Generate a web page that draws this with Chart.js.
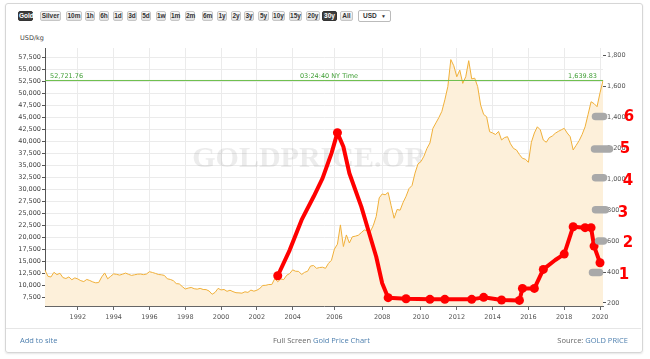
<!DOCTYPE html>
<html>
<head>
<meta charset="utf-8">
<script src="https://cdn.jsdelivr.net/npm/chart.js@4"></script>
<style>
  body { margin: 0; width: 650px; height: 359px; background: #fff; position: relative; overflow: hidden; font-family: 'Open Sans', sans-serif; }
  .panel { position: absolute; left: 5px; top: 3px; width: 636px; height: 348px; border: 1px solid #d6d6d6; border-radius: 3px; box-shadow: 0 1px 2px rgba(0,0,0,0.10); }
  .btn { position: absolute; top: 11px; height: 10px; line-height: 8px; box-sizing: border-box; font: bold 6.5px 'Liberation Sans', Arial, sans-serif; color: #333; background: linear-gradient(#fafafa, #e2e2e2); border: 1px solid #c6c6c6; border-radius: 2px; text-align: center; }
  .btn.on { background: #3d3d3d; color: #fff; border-color: #333; }
  .sel { position: absolute; top: 10px; left: 358px; width: 33px; height: 12px; box-sizing: border-box; border: 1px solid #bbb; border-radius: 2px; background: #fff; font: bold 6.5px 'Liberation Sans', Arial, sans-serif; color: #333; line-height: 10px; padding-left: 4px; }
  .sel span { position: absolute; right: 4px; font-size: 5px; }
  .unit { position: absolute; left: 20px; top: 34px; font: 6.5px 'DejaVu Sans', sans-serif; color: #444; }
  #wrap { position: absolute; left: 0; top: 30px; width: 650px; height: 300px; }
  .fline { position: absolute; left: 6px; width: 635px; top: 328px; border-top: 1px solid #e6e6e6; }
  .foot { position: absolute; top: 335px; font: 7.5px 'Open Sans', sans-serif; color: #666; white-space: nowrap; }
  .lnk { color: #4d7fae; }
</style>
</head>
<body>
<div class="panel"></div>
<div class="btn on" style="left:18px;width:15px">Gold</div>
<div class="btn" style="left:40px;width:21px">Silver</div>
<div class="btn" style="left:66px;width:16px">10m</div>
<div class="btn" style="left:85px;width:10px">1h</div>
<div class="btn" style="left:99px;width:10px">6h</div>
<div class="btn" style="left:113px;width:10px">1d</div>
<div class="btn" style="left:127px;width:10px">3d</div>
<div class="btn" style="left:141px;width:10px">5d</div>
<div class="btn" style="left:156px;width:10px">1w</div>
<div class="btn" style="left:170px;width:10px">1m</div>
<div class="btn" style="left:185px;width:10px">2m</div>
<div class="btn" style="left:202px;width:11px">6m</div>
<div class="btn" style="left:217px;width:10px">1y</div>
<div class="btn" style="left:231px;width:10px">2y</div>
<div class="btn" style="left:244px;width:10px">3y</div>
<div class="btn" style="left:258px;width:11px">5y</div>
<div class="btn" style="left:272px;width:13px">10y</div>
<div class="btn" style="left:289px;width:13px">15y</div>
<div class="btn" style="left:306px;width:14px">20y</div>
<div class="btn on" style="left:322px;width:15px">30y</div>
<div class="btn" style="left:340px;width:13px">All</div>
<div class="sel">USD<span>&#9660;</span></div>
<div class="unit">USD/kg</div>
<div id="wrap"><canvas id="chart"></canvas></div>
<div class="fline"></div>
<div class="foot lnk" style="left:20px">Add to site</div>
<div class="foot" style="left:273px">Full Screen <span class="lnk">Gold Price Chart</span></div>
<div class="foot" style="right:22px">Source: <span class="lnk">GOLD PRICE</span></div>
<script>
const OZ_PER_KG = 32.1507;

// sample dates (the site spaces its points evenly, so the axis is by index)
const dates = [
  '1990-03','1990-05','1990-07','1990-09','1990-11',
  '1991-01','1991-03','1991-05','1991-07','1991-09','1991-11',
  '1992-01','1992-03','1992-05','1992-07','1992-09','1992-11',
  '1993-01','1993-03','1993-05','1993-07','1993-09','1993-11',
  '1994-01','1994-03','1994-05','1994-07','1994-09','1994-11',
  '1995-01','1995-03','1995-05','1995-07','1995-09','1995-11',
  '1996-01','1996-03','1996-05','1996-07','1996-09','1996-11',
  '1997-01','1997-03','1997-05','1997-07','1997-09','1997-11',
  '1998-01','1998-03','1998-05','1998-07','1998-09','1998-11',
  '1999-01','1999-03','1999-05','1999-07','1999-09','1999-11',
  '2000-01','2000-03','2000-05','2000-07','2000-09','2000-11',
  '2001-01','2001-03','2001-05','2001-07','2001-09','2001-11',
  '2002-01','2002-03','2002-05','2002-07','2002-09','2002-11',
  '2003-01','2003-03','2003-05','2003-07','2003-09','2003-11',
  '2004-01','2004-02','2004-04','2004-05','2004-07','2004-09','2004-11','2004-12',
  '2005-02','2005-04','2005-06','2005-07','2005-09','2005-11',
  '2006-01','2006-02','2006-03','2006-05','2006-06','2006-08','2006-09','2006-11',
  '2007-01','2007-02','2007-04','2007-05','2007-07','2007-08','2007-10','2007-11',
  '2008-01','2008-02','2008-04','2008-06','2008-08','2008-10','2008-12',
  '2009-02','2009-04','2009-06','2009-08','2009-10','2009-12',
  '2010-01','2010-03','2010-05','2010-07','2010-09','2010-11',
  '2011-01','2011-03','2011-05','2011-07','2011-09','2011-11',
  '2012-01','2012-03','2012-05','2012-07','2012-09','2012-11',
  '2013-01','2013-03','2013-05','2013-07','2013-09','2013-11',
  '2014-01','2014-03','2014-05','2014-07','2014-09','2014-11',
  '2015-01','2015-03','2015-05','2015-07','2015-09','2015-11',
  '2016-01','2016-03','2016-05','2016-07','2016-09','2016-11',
  '2017-01','2017-03','2017-05','2017-07','2017-09','2017-11',
  '2018-01','2018-03','2018-05','2018-07','2018-09','2018-11',
  '2019-01','2019-03','2019-05','2019-07','2019-09','2019-11',
  '2020-01','2020-02'
];

// gold price, USD per troy ounce (right axis)
const goldOz = [
  412, 372, 368, 398, 383,
  392, 364, 358, 368, 350, 362,
  355, 344, 338, 352, 345, 336,
  330, 332, 368, 394, 356, 372,
  388, 385, 380, 386, 393, 385,
  378, 382, 386, 387, 383, 387,
  402, 397, 391, 384, 382, 378,
  356, 352, 344, 325, 323, 306,
  290, 296, 300, 292, 289, 294,
  287, 286, 277, 256, 268, 294,
  284, 287, 275, 282, 273, 266,
  265, 263, 272, 268, 283, 276,
  282, 294, 313, 314, 319, 319,
  357, 337, 355, 351, 379, 390,
  414, 405, 404, 384, 398, 405, 439, 442,
  424, 429, 431, 424, 456, 476,
  549, 580, 705, 565, 640, 588, 628, 632,
  638, 655, 672, 668, 661, 700, 760, 880,
  905, 900, 915, 830, 748, 805, 800,
  850, 890, 940, 960, 1040, 1100,
  1115, 1150, 1200, 1235, 1330, 1365,
  1400, 1440, 1515, 1600, 1775, 1735,
  1664, 1707, 1621, 1664, 1768, 1650,
  1655, 1600, 1480, 1420, 1405, 1308,
  1300, 1290, 1310, 1255, 1270, 1276,
  1230, 1200, 1190, 1160, 1136, 1130,
  1110, 1240, 1300, 1340, 1320, 1254,
  1240, 1270, 1280, 1298, 1310, 1320,
  1330, 1300, 1276, 1190, 1220, 1250,
  1290, 1340, 1420, 1502, 1490, 1470,
  1560, 1639.83
];

// hand-drawn red line on top of the chart (read against the oz scale)
const redDates = [
  '2003-03','2003-11','2004-05','2004-12','2005-06','2005-11','2006-02',
  '2006-05','2006-08','2007-02','2007-07','2007-10','2008-01','2008-04',
  '2009-04','2010-07','2011-05','2012-11','2013-07','2014-07','2015-07',
  '2015-09','2016-05','2016-11','2017-07','2018-01','2018-07','2019-03',
  '2019-07','2019-09','2020-01'
];
const redOz = [
  376, 542, 737, 887, 1006, 1168, 1302,
  1211, 1039, 823, 628, 499, 327, 234,
  227, 223, 223, 223, 236, 219, 216,
  294, 294, 417, 478, 516, 693, 687,
  687, 568, 460
];
const redDots = [
  1, 0, 0, 0, 0, 0, 1,
  0, 0, 0, 0, 0, 0, 1,
  1, 1, 1, 1, 1, 1, 1,
  1, 1, 1, 0, 1, 1, 1,
  1, 1, 1
];

const spotOz = 1639.83;
const spotKg = 52721.76;
const spotTime = '03:24:40 NY Time';

const xTickYears = [1992, 1994, 1996, 1998, 2000, 2002, 2004, 2006, 2008, 2010, 2012, 2014, 2016, 2018, 2020];
const ozTicks = [200, 400, 600, 800, 1000, 1200, 1400, 1600, 1800];
const kgTicks = [7500, 10000, 12500, 15000, 17500, 20000, 22500, 25000, 27500, 30000, 32500,
  35000, 37500, 40000, 42500, 45000, 47500, 50000, 52500, 55000, 57500];

// the grey smudges and red numbers scribbled over the right axis
const markLevels = [1400, 1200, 1000, 800, 600, 400];
const markDigits = ['6', '5', '4', '3', '2', '1'];

const OZ_MIN = 180, OZ_MAX = 1850;
const tickFont = { family: "'DejaVu Sans', sans-serif", size: 6.5 };
const fmt = v => v.toLocaleString('en-US');

// offsets (px from the plot's right edge) for the smudges and digits
const smudge = [[-11, 4], [-12, 10], [-11, 4], [-11, 6], [-8, 4], [-14, 0]];
const smudgeDy = [-1, 0.5, -1.5, -0.5, 0, 0.5];
const digitPos = [[26, 0], [22, 1], [25, 2], [20, 2.5], [25, 2], [21, 3]];

const overlay = {
  id: 'overlay',
  beforeDatasetsDraw(chart) {
    const { ctx, chartArea: a } = chart;
    ctx.save();
    ctx.font = "bold 30px 'Liberation Serif', serif";
    ctx.fillStyle = 'rgba(110,110,110,0.13)';
    ctx.textAlign = 'center';
    ctx.textBaseline = 'middle';
    ctx.fillText('GOLDPRICE.ORG', (a.left + a.right) / 2 - 3, a.top + (a.bottom - a.top) * 0.43);
    ctx.restore();
  },
  afterDatasetsDraw(chart) {
    const { ctx, chartArea: a } = chart;
    const y = chart.scales.yOz.getPixelForValue(spotOz) - 4.5;
    ctx.save();
    ctx.font = "6.5px 'DejaVu Sans', sans-serif";
    ctx.fillStyle = '#3f9e34';
    ctx.textBaseline = 'middle';
    ctx.textAlign = 'left';
    ctx.fillText(spotKg.toLocaleString('en-US', { minimumFractionDigits: 2 }), a.left + 5, y);
    ctx.textAlign = 'center';
    ctx.fillText(spotTime, (a.left + a.right) / 2 + 5, y);
    ctx.textAlign = 'right';
    ctx.fillText(fmt(spotOz), a.right - 6, y);
    ctx.restore();
  },
  afterDraw(chart) {
    const { ctx, chartArea: a } = chart;
    const s = chart.scales.yOz;
    ctx.save();
    markLevels.forEach((lv, i) => {
      const y = s.getPixelForValue(lv);
      ctx.strokeStyle = '#a9a9a9';
      ctx.lineWidth = 7.5;
      ctx.lineCap = 'round';
      ctx.beginPath();
      ctx.moveTo(a.right + smudge[i][0] + 3.5, y + smudgeDy[i]);
      ctx.lineTo(a.right + smudge[i][1] - 3.5, y + smudgeDy[i]);
      ctx.stroke();
      ctx.fillStyle = '#ff0000';
      ctx.font = "bold 15px 'DejaVu Sans', sans-serif";
      ctx.textAlign = 'center';
      ctx.textBaseline = 'middle';
      ctx.fillText(markDigits[i], a.right + digitPos[i][0], y + digitPos[i][1]);
    });
    ctx.restore();
  }
};

new Chart(document.getElementById('chart'), {
  type: 'line',
  data: {
    labels: dates,
    datasets: [{
      label: 'Gold',
      data: goldOz,
      yAxisID: 'yOz',
      borderColor: '#f0b03a',
      borderWidth: 1,
      backgroundColor: '#fdf0da',
      fill: 'start',
      pointRadius: 0,
      tension: 0,
      order: 3
    }, {
      label: 'Spot',
      data: [{ x: dates[0], y: spotOz }, { x: dates[dates.length - 1], y: spotOz }],
      yAxisID: 'yOz',
      borderColor: '#6cbf4c',
      borderWidth: 1,
      pointRadius: 0,
      order: 2
    }, {
      label: 'Marks',
      data: redDates.map((d, i) => ({ x: d, y: redOz[i] })),
      yAxisID: 'yOz',
      borderColor: '#ff0000',
      borderWidth: 4,
      borderJoinStyle: 'round',
      borderCapStyle: 'round',
      pointRadius: redDots.map(v => v ? 4.5 : 0),
      pointBackgroundColor: '#ff0000',
      pointBorderWidth: 0,
      tension: 0,
      clip: false,
      order: 1
    }]
  },
  options: {
    responsive: true,
    maintainAspectRatio: false,
    animation: false,
    events: [],
    layout: { padding: { top: 18, left: 0, right: 0, bottom: 0 } },
    plugins: { legend: { display: false }, tooltip: { enabled: false } },
    scales: {
      x: {
        type: 'category',
        offset: false,
        afterBuildTicks: axis => {
          axis.ticks = axis.ticks.filter(t => xTickYears.includes(+dates[t.value].slice(0, 4)) && dates[t.value].endsWith('-01'));
        },
        afterFit: axis => { axis.height = 24; },
        ticks: {
          autoSkip: false, maxRotation: 0, minRotation: 0, padding: 3,
          font: tickFont, color: '#555',
          callback: value => dates[value].slice(0, 4)
        },
        grid: { color: '#ebebeb', tickColor: '#666', tickLength: 4 },
        border: { color: '#666' }
      },
      yKg: {
        type: 'linear',
        position: 'left',
        min: OZ_MIN * OZ_PER_KG,
        max: OZ_MAX * OZ_PER_KG,
        afterBuildTicks: axis => { axis.ticks = kgTicks.map(v => ({ value: v })); },
        afterFit: axis => { axis.width = 45; },
        ticks: { font: tickFont, color: '#444', padding: 1, callback: v => fmt(v) },
        grid: { color: '#ebebeb', tickColor: '#555', tickLength: 3 },
        border: { color: '#555' }
      },
      yOz: {
        type: 'linear',
        position: 'right',
        min: OZ_MIN,
        max: OZ_MAX,
        afterBuildTicks: axis => { axis.ticks = ozTicks.map(v => ({ value: v })); },
        afterFit: axis => { axis.width = 47; },
        ticks: { font: tickFont, color: '#555', padding: 1, callback: v => fmt(v) },
        grid: { drawOnChartArea: false, tickColor: '#555', tickLength: 3 },
        border: { display: false }
      }
    }
  },
  plugins: [overlay]
});
</script>
</body>
</html>
